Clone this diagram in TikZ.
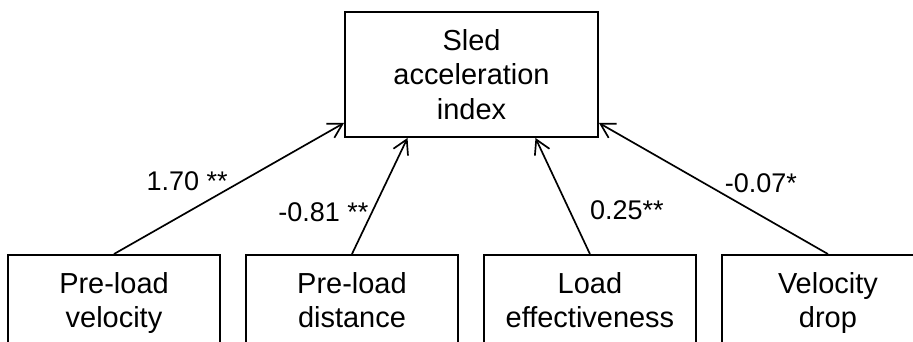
\documentclass[tikz,border=0pt]{standalone}
\usepackage{fontspec}
\setmainfont{Liberation Sans}
\usetikzlibrary{arrows.meta, positioning}

\tikzset{
  boxnode/.style={rectangle, draw, line width=1.4pt, align=center, inner sep=0pt,
    font=\fontsize{20.6}{24.5}\selectfont},
  predbox/.style={boxnode, minimum width=5.3cm, minimum height=2.425cm},
  pathlink/.style={-{Straight Barb[length=10pt, width=11.5pt]}, line width=1.2pt},
  coef/.style={font=\fontsize{19.2}{23}\selectfont, inner sep=2pt}
}

\begin{document}
\begin{tikzpicture}
    \useasboundingbox (0,0) rectangle (22.825,8.55);
    \clip (0,0) rectangle (22.825,8.55);

    % Zielgroesse
    \node[boxnode, minimum width=6.325cm, minimum height=3.125cm] (sai) at (11.7875,6.6875) {Sled\\acceleration\\index};

    % Praediktoren
    \node[predbox] (pv) at (2.85,0.9625) {Pre-load\strut\\velocity\strut};
    \node[predbox, right=0.6cm of pv] (pd) {Pre-load\strut\\distance\strut};
    \node[predbox, right=0.6cm of pd] (le) {Load\strut\\effectiveness\strut};
    \node[predbox, right=0.6cm of le] (vd) {Velocity\strut\\drop\strut};

    % Pfade
    \draw[pathlink] (pv.north) -- ([yshift=0.375cm]sai.south west)
        node[coef, pos=0.48, anchor=south east, xshift=0.175cm, yshift=-0.08cm] (cpv) {1.70 **};
    \draw[pathlink] (pd.north) -- ([xshift=-1.6cm]sai.south)
        node[coef, pos=0.36, anchor=east] (cpd) {-0.81 **};
    \draw[pathlink] (le.north) -- ([xshift=1.6cm]sai.south)
        node[coef, pos=0.38, anchor=west, xshift=0.43cm] (cle) {0.25**};
    \draw[pathlink] (vd.north) -- ([yshift=0.375cm]sai.south east)
        node[coef, pos=0.44, anchor=south west, xshift=-0.15cm] (cvd) {-0.07*};
\end{tikzpicture}
\end{document}
